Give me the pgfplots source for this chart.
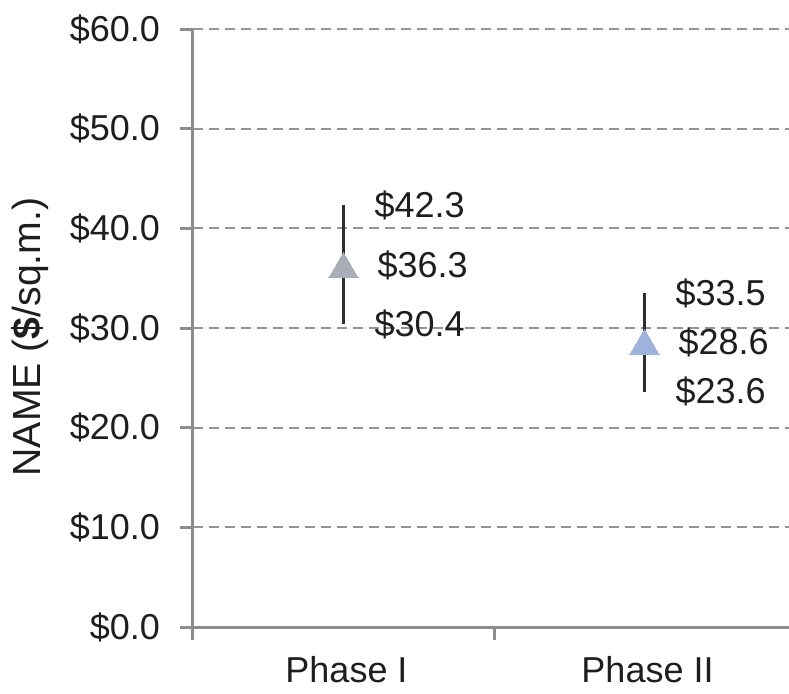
\documentclass[border=0pt]{standalone}
\usepackage{fontspec}
\setmainfont{Liberation Sans}
\usepackage{pgfplots}
\pgfplotsset{compat=1.18}
\definecolor{axisgray}{HTML}{8C8C8C}
\definecolor{gridgray}{HTML}{949494}
\definecolor{barline}{HTML}{2E2E2E}
\definecolor{phaseone}{HTML}{A9AEB8}
\definecolor{phasetwo}{HTML}{9DB2DC}
\definecolor{txt}{HTML}{1E1E1E}
\newcommand{\lbl}{\fontsize{18}{21.6}\selectfont}

\begin{document}
\begin{tikzpicture}
\useasboundingbox (0,0) rectangle (394.5pt,346.5pt);
\begin{axis}[
  at={(96.5pt,33pt)}, anchor=south west,
  scale only axis, width=298pt, height=299pt,
  clip=false,
  xmin=0, xmax=1.98, ymin=0, ymax=60,
  axis x line=bottom, axis y line=left,
  axis line style={-, draw=axisgray, line width=1.5pt},
  /pgf/number format/assume math mode=true,
  ytick={0,10,...,60},
  yticklabel={\$\pgfmathprintnumber[fixed,fixed zerofill,precision=1]{\tick}},
  yticklabel style={font=\lbl, text=txt, xshift=-6.5pt},
  xtick={0,1,2}, xticklabels={},
  extra x ticks={0.5,1.5},
  extra x tick labels={Phase I, Phase II},
  extra x tick style={major tick length=0pt, xticklabel style={font=\lbl, text=txt, yshift=-11pt, xshift=1.5pt}},
  tick align=outside, major tick length=6.5pt,
  tick style={draw=axisgray, line width=1.5pt},
  ymajorgrids,
  grid style={draw=gridgray, line width=1pt, dash pattern=on 5pt off 3pt},
  ylabel={NAME (\textbf{\$}/sq.m.)},
  ylabel style={font=\fontsize{19.6}{23}\selectfont, text=txt, at={(axis description cs:-0.2735,0.485)}, anchor=center, rotate=0},
  nodes near coords={\$\pgfmathprintnumber[fixed,fixed zerofill,precision=1]{\pgfplotspointmeta}},
  point meta=y,
]
% range lines (low to high)
\addplot[draw=barline, line width=1.5pt, mark=none, nodes near coords=] coordinates {(0.5,30.4) (0.5,42.3)};
\addplot[draw=barline, line width=1.5pt, mark=none, nodes near coords=] coordinates {(1.5,23.6) (1.5,33.5)};
% mean markers
\addplot[only marks, mark=triangle*, mark size=8.5pt, nodes near coords=, color=phaseone,
  mark options={fill=phaseone, draw=phaseone, line width=0pt, yshift=-2.1pt}] coordinates {(0.5,36.3)};
\addplot[only marks, mark=triangle*, mark size=8.5pt, nodes near coords=, color=phasetwo,
  mark options={fill=phasetwo, draw=phasetwo, line width=0pt, yshift=-2.1pt}] coordinates {(1.5,28.6)};
% value labels
\addplot[draw=none, mark=none,
  nodes near coords style={anchor=west, xshift=12pt, font=\lbl, text=txt}]
  coordinates {(0.5,42.3) (1.5,33.5)};
\addplot[draw=none, mark=none,
  nodes near coords style={anchor=west, xshift=13.5pt, font=\lbl, text=txt}]
  coordinates {(0.5,36.3) (1.5,28.6)};
\addplot[draw=none, mark=none,
  nodes near coords style={anchor=west, xshift=12pt, font=\lbl, text=txt}]
  coordinates {(0.5,30.4) (1.5,23.6)};
\end{axis}
\end{tikzpicture}
\end{document}
